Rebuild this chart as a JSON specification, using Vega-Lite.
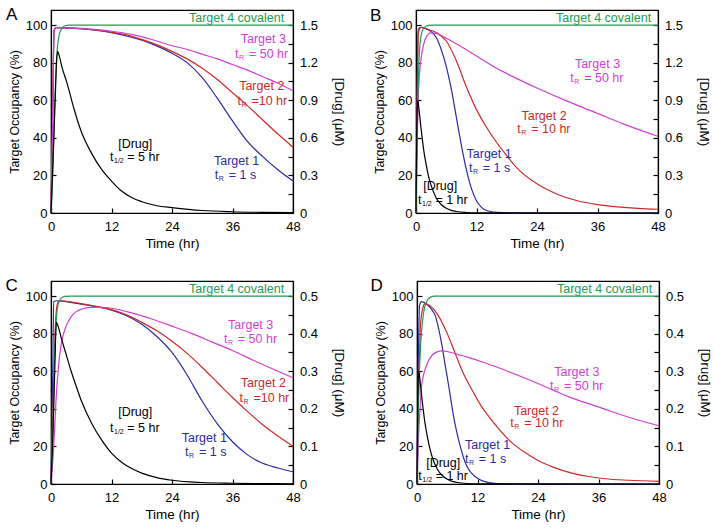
{
"$schema": "https://vega.github.io/schema/vega-lite/v6.json",
"padding": {"left": 4, "top": 5, "right": 4, "bottom": 4},
"datasets": {
"curves": [
{"p":"A","s":"Target 1","t":0,"v":0},{"p":"A","s":"Target 1","t":0.3,"v":45},{"p":"A","s":"Target 1","t":0.6,"v":97},{"p":"A","s":"Target 1","t":1,"v":98.6},{"p":"A","s":"Target 1","t":4,"v":98.4},{"p":"A","s":"Target 1","t":8,"v":97.6},{"p":"A","s":"Target 1","t":12,"v":96},{"p":"A","s":"Target 1","t":16,"v":93.5},{"p":"A","s":"Target 1","t":20,"v":90},{"p":"A","s":"Target 1","t":24,"v":85},{"p":"A","s":"Target 1","t":27,"v":80},{"p":"A","s":"Target 1","t":30,"v":72},{"p":"A","s":"Target 1","t":33,"v":61},{"p":"A","s":"Target 1","t":36,"v":49},{"p":"A","s":"Target 1","t":39,"v":38},{"p":"A","s":"Target 1","t":42,"v":30},{"p":"A","s":"Target 1","t":45,"v":23},{"p":"A","s":"Target 1","t":48,"v":17},
{"p":"A","s":"Target 2","t":0,"v":0},{"p":"A","s":"Target 2","t":0.3,"v":45},{"p":"A","s":"Target 2","t":0.6,"v":97},{"p":"A","s":"Target 2","t":1,"v":98.6},{"p":"A","s":"Target 2","t":4,"v":98.4},{"p":"A","s":"Target 2","t":8,"v":97.6},{"p":"A","s":"Target 2","t":12,"v":96.2},{"p":"A","s":"Target 2","t":16,"v":94},{"p":"A","s":"Target 2","t":20,"v":90.5},{"p":"A","s":"Target 2","t":24,"v":86},{"p":"A","s":"Target 2","t":27,"v":82},{"p":"A","s":"Target 2","t":30,"v":77},{"p":"A","s":"Target 2","t":33,"v":71},{"p":"A","s":"Target 2","t":36,"v":64},{"p":"A","s":"Target 2","t":39,"v":57},{"p":"A","s":"Target 2","t":42,"v":49.5},{"p":"A","s":"Target 2","t":45,"v":42},{"p":"A","s":"Target 2","t":48,"v":35},
{"p":"A","s":"Target 3","t":0,"v":0},{"p":"A","s":"Target 3","t":0.3,"v":45},{"p":"A","s":"Target 3","t":0.6,"v":97},{"p":"A","s":"Target 3","t":1,"v":98.6},{"p":"A","s":"Target 3","t":4,"v":98.5},{"p":"A","s":"Target 3","t":8,"v":97.8},{"p":"A","s":"Target 3","t":12,"v":96.7},{"p":"A","s":"Target 3","t":16,"v":95},{"p":"A","s":"Target 3","t":20,"v":92.3},{"p":"A","s":"Target 3","t":24,"v":89},{"p":"A","s":"Target 3","t":27,"v":87},{"p":"A","s":"Target 3","t":30,"v":84.5},{"p":"A","s":"Target 3","t":33,"v":82},{"p":"A","s":"Target 3","t":36,"v":79},{"p":"A","s":"Target 3","t":39,"v":76},{"p":"A","s":"Target 3","t":42,"v":72.5},{"p":"A","s":"Target 3","t":45,"v":69},{"p":"A","s":"Target 3","t":48,"v":65},
{"p":"A","s":"Target 4","t":0,"v":0},{"p":"A","s":"Target 4","t":0.4,"v":25},{"p":"A","s":"Target 4","t":0.7,"v":55},{"p":"A","s":"Target 4","t":0.9,"v":70},{"p":"A","s":"Target 4","t":1.2,"v":86},{"p":"A","s":"Target 4","t":1.6,"v":94.5},{"p":"A","s":"Target 4","t":2,"v":97.5},{"p":"A","s":"Target 4","t":2.5,"v":99.2},{"p":"A","s":"Target 4","t":3.5,"v":100},{"p":"A","s":"Target 4","t":48,"v":100},
{"p":"B","s":"Target 1","t":0,"v":0},{"p":"B","s":"Target 1","t":0.2,"v":55},{"p":"B","s":"Target 1","t":0.45,"v":98},{"p":"B","s":"Target 1","t":1,"v":98.8},{"p":"B","s":"Target 1","t":2,"v":98},{"p":"B","s":"Target 1","t":3,"v":96.5},{"p":"B","s":"Target 1","t":4,"v":93.5},{"p":"B","s":"Target 1","t":5,"v":87},{"p":"B","s":"Target 1","t":6,"v":78},{"p":"B","s":"Target 1","t":7,"v":66},{"p":"B","s":"Target 1","t":8,"v":51},{"p":"B","s":"Target 1","t":9,"v":36},{"p":"B","s":"Target 1","t":10,"v":23},{"p":"B","s":"Target 1","t":11,"v":13},{"p":"B","s":"Target 1","t":12,"v":6.5},{"p":"B","s":"Target 1","t":13,"v":3},{"p":"B","s":"Target 1","t":14,"v":1.3},{"p":"B","s":"Target 1","t":16,"v":0.3},{"p":"B","s":"Target 1","t":20,"v":0},{"p":"B","s":"Target 1","t":48,"v":0},
{"p":"B","s":"Target 2","t":0,"v":0},{"p":"B","s":"Target 2","t":0.2,"v":50},{"p":"B","s":"Target 2","t":0.45,"v":96},{"p":"B","s":"Target 2","t":1,"v":98.8},{"p":"B","s":"Target 2","t":2,"v":98},{"p":"B","s":"Target 2","t":4,"v":96},{"p":"B","s":"Target 2","t":6,"v":91.5},{"p":"B","s":"Target 2","t":8,"v":81},{"p":"B","s":"Target 2","t":10,"v":67},{"p":"B","s":"Target 2","t":12,"v":55},{"p":"B","s":"Target 2","t":14,"v":45.5},{"p":"B","s":"Target 2","t":16,"v":37.5},{"p":"B","s":"Target 2","t":18,"v":30.5},{"p":"B","s":"Target 2","t":20,"v":24},{"p":"B","s":"Target 2","t":24,"v":15.5},{"p":"B","s":"Target 2","t":28,"v":10},{"p":"B","s":"Target 2","t":32,"v":6.5},{"p":"B","s":"Target 2","t":36,"v":4.5},{"p":"B","s":"Target 2","t":40,"v":3.3},{"p":"B","s":"Target 2","t":44,"v":2.5},{"p":"B","s":"Target 2","t":48,"v":2},
{"p":"B","s":"Target 3","t":0,"v":0},{"p":"B","s":"Target 3","t":0.25,"v":40},{"p":"B","s":"Target 3","t":0.5,"v":65},{"p":"B","s":"Target 3","t":1,"v":82},{"p":"B","s":"Target 3","t":1.5,"v":89.5},{"p":"B","s":"Target 3","t":2,"v":93.5},{"p":"B","s":"Target 3","t":3,"v":95.8},{"p":"B","s":"Target 3","t":4,"v":95.5},{"p":"B","s":"Target 3","t":6,"v":93},{"p":"B","s":"Target 3","t":9,"v":88.5},{"p":"B","s":"Target 3","t":12,"v":83.5},{"p":"B","s":"Target 3","t":16,"v":77},{"p":"B","s":"Target 3","t":20,"v":71.5},{"p":"B","s":"Target 3","t":24,"v":66.5},{"p":"B","s":"Target 3","t":30,"v":59.5},{"p":"B","s":"Target 3","t":36,"v":53},{"p":"B","s":"Target 3","t":42,"v":46.5},{"p":"B","s":"Target 3","t":48,"v":40.8},
{"p":"B","s":"Target 4","t":0,"v":0},{"p":"B","s":"Target 4","t":0.25,"v":45},{"p":"B","s":"Target 4","t":0.5,"v":75},{"p":"B","s":"Target 4","t":0.8,"v":90},{"p":"B","s":"Target 4","t":1.2,"v":96.5},{"p":"B","s":"Target 4","t":1.7,"v":98.8},{"p":"B","s":"Target 4","t":2.5,"v":99.8},{"p":"B","s":"Target 4","t":3.5,"v":100},{"p":"B","s":"Target 4","t":48,"v":100},
{"p":"C","s":"Target 1","t":0,"v":0},{"p":"C","s":"Target 1","t":0.3,"v":50},{"p":"C","s":"Target 1","t":0.55,"v":97},{"p":"C","s":"Target 1","t":1,"v":97.5},{"p":"C","s":"Target 1","t":3,"v":97},{"p":"C","s":"Target 1","t":6,"v":95.7},{"p":"C","s":"Target 1","t":9,"v":94.3},{"p":"C","s":"Target 1","t":12,"v":92.5},{"p":"C","s":"Target 1","t":15,"v":89.5},{"p":"C","s":"Target 1","t":18,"v":85},{"p":"C","s":"Target 1","t":21,"v":78.5},{"p":"C","s":"Target 1","t":24,"v":70},{"p":"C","s":"Target 1","t":27,"v":58},{"p":"C","s":"Target 1","t":30,"v":44},{"p":"C","s":"Target 1","t":33,"v":32},{"p":"C","s":"Target 1","t":36,"v":22.5},{"p":"C","s":"Target 1","t":39,"v":15.5},{"p":"C","s":"Target 1","t":42,"v":11},{"p":"C","s":"Target 1","t":45,"v":8.5},{"p":"C","s":"Target 1","t":48,"v":6.5},
{"p":"C","s":"Target 2","t":0,"v":0},{"p":"C","s":"Target 2","t":0.4,"v":40},{"p":"C","s":"Target 2","t":0.8,"v":80},{"p":"C","s":"Target 2","t":1.2,"v":95},{"p":"C","s":"Target 2","t":1.6,"v":97.5},{"p":"C","s":"Target 2","t":3,"v":97.2},{"p":"C","s":"Target 2","t":6,"v":96},{"p":"C","s":"Target 2","t":9,"v":94.5},{"p":"C","s":"Target 2","t":12,"v":92.8},{"p":"C","s":"Target 2","t":15,"v":90},{"p":"C","s":"Target 2","t":18,"v":86},{"p":"C","s":"Target 2","t":21,"v":81.5},{"p":"C","s":"Target 2","t":24,"v":76},{"p":"C","s":"Target 2","t":27,"v":69.5},{"p":"C","s":"Target 2","t":30,"v":62},{"p":"C","s":"Target 2","t":33,"v":54},{"p":"C","s":"Target 2","t":36,"v":46},{"p":"C","s":"Target 2","t":39,"v":38.5},{"p":"C","s":"Target 2","t":42,"v":31.5},{"p":"C","s":"Target 2","t":45,"v":25.5},{"p":"C","s":"Target 2","t":48,"v":20},
{"p":"C","s":"Target 3","t":0,"v":0},{"p":"C","s":"Target 3","t":0.5,"v":18},{"p":"C","s":"Target 3","t":1,"v":45},{"p":"C","s":"Target 3","t":1.5,"v":63},{"p":"C","s":"Target 3","t":2,"v":74},{"p":"C","s":"Target 3","t":3,"v":84},{"p":"C","s":"Target 3","t":4,"v":89},{"p":"C","s":"Target 3","t":5,"v":91.7},{"p":"C","s":"Target 3","t":6,"v":93},{"p":"C","s":"Target 3","t":8,"v":94},{"p":"C","s":"Target 3","t":10,"v":94},{"p":"C","s":"Target 3","t":12,"v":93.5},{"p":"C","s":"Target 3","t":16,"v":91},{"p":"C","s":"Target 3","t":20,"v":87.8},{"p":"C","s":"Target 3","t":24,"v":84},{"p":"C","s":"Target 3","t":28,"v":80},{"p":"C","s":"Target 3","t":32,"v":75.5},{"p":"C","s":"Target 3","t":36,"v":71},{"p":"C","s":"Target 3","t":40,"v":66},{"p":"C","s":"Target 3","t":44,"v":61.2},{"p":"C","s":"Target 3","t":48,"v":56.5},
{"p":"C","s":"Target 4","t":0,"v":0},{"p":"C","s":"Target 4","t":0.3,"v":20},{"p":"C","s":"Target 4","t":0.5,"v":45},{"p":"C","s":"Target 4","t":0.7,"v":66},{"p":"C","s":"Target 4","t":1,"v":85},{"p":"C","s":"Target 4","t":1.4,"v":95.5},{"p":"C","s":"Target 4","t":2,"v":98.8},{"p":"C","s":"Target 4","t":2.7,"v":99.8},{"p":"C","s":"Target 4","t":4,"v":100},{"p":"C","s":"Target 4","t":48,"v":100},
{"p":"D","s":"Target 1","t":0,"v":0},{"p":"D","s":"Target 1","t":0.2,"v":50},{"p":"D","s":"Target 1","t":0.5,"v":95},{"p":"D","s":"Target 1","t":0.9,"v":97},{"p":"D","s":"Target 1","t":2,"v":95.5},{"p":"D","s":"Target 1","t":3,"v":92.5},{"p":"D","s":"Target 1","t":3.6,"v":89.7},{"p":"D","s":"Target 1","t":4.5,"v":80},{"p":"D","s":"Target 1","t":5,"v":73},{"p":"D","s":"Target 1","t":5.6,"v":63},{"p":"D","s":"Target 1","t":6.3,"v":52},{"p":"D","s":"Target 1","t":6.9,"v":41.7},{"p":"D","s":"Target 1","t":7.5,"v":32.5},{"p":"D","s":"Target 1","t":8.2,"v":24},{"p":"D","s":"Target 1","t":9,"v":16},{"p":"D","s":"Target 1","t":9.5,"v":11.8},{"p":"D","s":"Target 1","t":10.5,"v":6.8},{"p":"D","s":"Target 1","t":11.5,"v":4},{"p":"D","s":"Target 1","t":12.5,"v":2.3},{"p":"D","s":"Target 1","t":14,"v":0.9},{"p":"D","s":"Target 1","t":16,"v":0.2},{"p":"D","s":"Target 1","t":20,"v":0},{"p":"D","s":"Target 1","t":48,"v":0},
{"p":"D","s":"Target 2","t":0,"v":0},{"p":"D","s":"Target 2","t":0.3,"v":45},{"p":"D","s":"Target 2","t":0.7,"v":85},{"p":"D","s":"Target 2","t":1.2,"v":94},{"p":"D","s":"Target 2","t":1.6,"v":96},{"p":"D","s":"Target 2","t":2.5,"v":95},{"p":"D","s":"Target 2","t":4.2,"v":89.7},{"p":"D","s":"Target 2","t":6,"v":80},{"p":"D","s":"Target 2","t":7.5,"v":70},{"p":"D","s":"Target 2","t":9,"v":60},{"p":"D","s":"Target 2","t":10.8,"v":50.6},{"p":"D","s":"Target 2","t":12.5,"v":42.5},{"p":"D","s":"Target 2","t":14.1,"v":36.4},{"p":"D","s":"Target 2","t":16,"v":30},{"p":"D","s":"Target 2","t":18.8,"v":22},{"p":"D","s":"Target 2","t":21,"v":17.5},{"p":"D","s":"Target 2","t":24,"v":12.5},{"p":"D","s":"Target 2","t":27,"v":9},{"p":"D","s":"Target 2","t":30.7,"v":5.8},{"p":"D","s":"Target 2","t":34,"v":4},{"p":"D","s":"Target 2","t":37.3,"v":2.8},{"p":"D","s":"Target 2","t":42,"v":2},{"p":"D","s":"Target 2","t":48,"v":1.4},
{"p":"D","s":"Target 3","t":0,"v":0},{"p":"D","s":"Target 3","t":0.3,"v":25},{"p":"D","s":"Target 3","t":0.6,"v":40},{"p":"D","s":"Target 3","t":0.9,"v":52},{"p":"D","s":"Target 3","t":1.5,"v":60},{"p":"D","s":"Target 3","t":2.2,"v":65},{"p":"D","s":"Target 3","t":3,"v":68.5},{"p":"D","s":"Target 3","t":4,"v":70.3},{"p":"D","s":"Target 3","t":4.9,"v":70.8},{"p":"D","s":"Target 3","t":6,"v":70.5},{"p":"D","s":"Target 3","t":8,"v":69},{"p":"D","s":"Target 3","t":10,"v":67.5},{"p":"D","s":"Target 3","t":14,"v":64},{"p":"D","s":"Target 3","t":18,"v":60},{"p":"D","s":"Target 3","t":24,"v":53.5},{"p":"D","s":"Target 3","t":30,"v":46.5},{"p":"D","s":"Target 3","t":36,"v":41},{"p":"D","s":"Target 3","t":42,"v":35.5},{"p":"D","s":"Target 3","t":48,"v":31},
{"p":"D","s":"Target 4","t":0,"v":0},{"p":"D","s":"Target 4","t":0.3,"v":45},{"p":"D","s":"Target 4","t":0.6,"v":68},{"p":"D","s":"Target 4","t":0.9,"v":81},{"p":"D","s":"Target 4","t":1.3,"v":91},{"p":"D","s":"Target 4","t":1.9,"v":97},{"p":"D","s":"Target 4","t":2.6,"v":99.3},{"p":"D","s":"Target 4","t":3.6,"v":100},{"p":"D","s":"Target 4","t":48,"v":100}
],
"drug": [
{"p":"A","t":0,"c":0},{"p":"A","t":0.4,"c":0.42},{"p":"A","t":0.8,"c":0.87},{"p":"A","t":1.1,"c":1.2},{"p":"A","t":1.3,"c":1.29},{"p":"A","t":1.6,"c":1.26},{"p":"A","t":2.2,"c":1.16},{"p":"A","t":3,"c":1.06},{"p":"A","t":3.5,"c":0.99},{"p":"A","t":4.5,"c":0.84},{"p":"A","t":6,"c":0.65},{"p":"A","t":8,"c":0.48},{"p":"A","t":10,"c":0.35},{"p":"A","t":12,"c":0.255},{"p":"A","t":14,"c":0.175},{"p":"A","t":16,"c":0.123},{"p":"A","t":18,"c":0.09},{"p":"A","t":21,"c":0.058},{"p":"A","t":24,"c":0.043},{"p":"A","t":30,"c":0.02},{"p":"A","t":36,"c":0.01},{"p":"A","t":42,"c":0.005},{"p":"A","t":48,"c":0.003},
{"p":"B","t":0,"c":0},{"p":"B","t":0.15,"c":0.675},{"p":"B","t":0.35,"c":0.9},{"p":"B","t":0.6,"c":0.825},{"p":"B","t":1,"c":0.675},{"p":"B","t":1.5,"c":0.51},{"p":"B","t":2,"c":0.39},{"p":"B","t":2.5,"c":0.29},{"p":"B","t":3,"c":0.22},{"p":"B","t":4,"c":0.12},{"p":"B","t":5,"c":0.068},{"p":"B","t":6,"c":0.038},{"p":"B","t":7,"c":0.021},{"p":"B","t":8,"c":0.012},{"p":"B","t":10,"c":0.004},{"p":"B","t":12,"c":0.001},{"p":"B","t":48,"c":0},
{"p":"C","t":0,"c":0},{"p":"C","t":0.4,"c":0.14},{"p":"C","t":0.8,"c":0.33},{"p":"C","t":1.05,"c":0.43},{"p":"C","t":1.4,"c":0.42},{"p":"C","t":2,"c":0.39},{"p":"C","t":3,"c":0.345},{"p":"C","t":4,"c":0.3},{"p":"C","t":5,"c":0.26},{"p":"C","t":6,"c":0.222},{"p":"C","t":8,"c":0.163},{"p":"C","t":10,"c":0.118},{"p":"C","t":12,"c":0.082},{"p":"C","t":14,"c":0.058},{"p":"C","t":16,"c":0.041},{"p":"C","t":18,"c":0.029},{"p":"C","t":21,"c":0.017},{"p":"C","t":24,"c":0.01},{"p":"C","t":30,"c":0.004},{"p":"C","t":36,"c":0.002},{"p":"C","t":42,"c":0.001},{"p":"C","t":48,"c":0.0005},
{"p":"D","t":0,"c":0},{"p":"D","t":0.15,"c":0.225},{"p":"D","t":0.35,"c":0.3},{"p":"D","t":0.6,"c":0.275},{"p":"D","t":1,"c":0.225},{"p":"D","t":1.5,"c":0.17},{"p":"D","t":2,"c":0.13},{"p":"D","t":2.5,"c":0.0975},{"p":"D","t":3,"c":0.0725},{"p":"D","t":4,"c":0.04},{"p":"D","t":5,"c":0.0225},{"p":"D","t":6,"c":0.0125},{"p":"D","t":7,"c":0.007},{"p":"D","t":8,"c":0.004},{"p":"D","t":10,"c":0.00125},{"p":"D","t":12,"c":0.0004},{"p":"D","t":48,"c":0}
],
"labels": [
{"p":"A","s":"Target 4","t":36.8,"v":103.9,"txt":"Target 4 covalent"},{"p":"A","s":"Target 3","t":42.1,"v":92.7,"txt":"Target 3"},{"p":"A","s":"Target 2","t":41.8,"v":67.5,"txt":"Target 2"},{"p":"A","s":"Target 1","t":36.8,"v":27.7,"txt":"Target 1"},{"p":"A","s":"Drug","t":16.7,"v":36.5,"txt":"[Drug]"},
{"p":"B","s":"Target 4","t":37.2,"v":103.9,"txt":"Target 4 covalent"},{"p":"B","s":"Target 3","t":36,"v":79.1,"txt":"Target 3"},{"p":"B","s":"Target 2","t":25.4,"v":51.6,"txt":"Target 2"},{"p":"B","s":"Target 1","t":14.5,"v":31.2,"txt":"Target 1"},{"p":"B","s":"Drug","t":4.8,"v":14.4,"txt":"[Drug]"},
{"p":"C","s":"Target 4","t":36.8,"v":103.7,"txt":"Target 4 covalent"},{"p":"C","s":"Target 3","t":39.6,"v":84.6,"txt":"Target 3"},{"p":"C","s":"Target 2","t":42.1,"v":53.6,"txt":"Target 2"},{"p":"C","s":"Target 1","t":30.4,"v":24.3,"txt":"Target 1"},{"p":"C","s":"Drug","t":16.7,"v":38.5,"txt":"[Drug]"},
{"p":"D","s":"Target 4","t":37.2,"v":103.7,"txt":"Target 4 covalent"},{"p":"D","s":"Target 3","t":31.7,"v":59.4,"txt":"Target 3"},{"p":"D","s":"Target 2","t":23.7,"v":39,"txt":"Target 2"},{"p":"D","s":"Target 1","t":14,"v":20.7,"txt":"Target 1"},{"p":"D","s":"Drug","t":5.2,"v":11,"txt":"[Drug]"}
],
"tlines": [
{"p":"A","s":"Target 3","t":36.5,"v":84.7,"txt":"t\u00a0\u00a0\u00a0= 50 hr","sub":"R"},{"p":"A","s":"Target 2","t":37,"v":59.6,"txt":"t\u00a0\u00a0\u00a0=10 hr","sub":"R"},{"p":"A","s":"Target 1","t":32.5,"v":20.2,"txt":"t\u00a0\u00a0\u00a0= 1 s","sub":"R"},{"p":"A","s":"Drug","t":11.7,"v":29.8,"txt":"t\u00a0\u00a0\u00a0\u00a0= 5 hr","sub":"1/2"},
{"p":"B","s":"Target 3","t":30.6,"v":71.6,"txt":"t\u00a0\u00a0\u00a0= 50 hr","sub":"R"},{"p":"B","s":"Target 2","t":20.1,"v":44.5,"txt":"t\u00a0\u00a0\u00a0= 10 hr","sub":"R"},{"p":"B","s":"Target 1","t":10.5,"v":24.1,"txt":"t\u00a0\u00a0\u00a0= 1 s","sub":"R"},{"p":"B","s":"Drug","t":0.4,"v":6.7,"txt":"t\u00a0\u00a0\u00a0\u00a0= 1 hr","sub":"1/2"},
{"p":"C","s":"Target 3","t":34.3,"v":77.1,"txt":"t\u00a0\u00a0\u00a0= 50 hr","sub":"R"},{"p":"C","s":"Target 2","t":37.4,"v":45.9,"txt":"t\u00a0\u00a0\u00a0=10 hr","sub":"R"},{"p":"C","s":"Target 1","t":26.6,"v":16.9,"txt":"t\u00a0\u00a0\u00a0= 1 s","sub":"R"},{"p":"C","s":"Drug","t":11.7,"v":29.6,"txt":"t\u00a0\u00a0\u00a0\u00a0= 5 hr","sub":"1/2"},
{"p":"D","s":"Target 3","t":26.4,"v":52.3,"txt":"t\u00a0\u00a0\u00a0= 50 hr","sub":"R"},{"p":"D","s":"Target 2","t":18.5,"v":32.3,"txt":"t\u00a0\u00a0\u00a0= 10 hr","sub":"R"},{"p":"D","s":"Target 1","t":9.5,"v":13.3,"txt":"t\u00a0\u00a0\u00a0= 1 s","sub":"R"},{"p":"D","s":"Drug","t":0.26,"v":4.4,"txt":"t\u00a0\u00a0\u00a0\u00a0= 1 hr","sub":"1/2"}
],
"letters": [
{"p":"A","t":-7.8,"v":105.2,"txt":"A"},{"p":"B","t":-8,"v":104.8,"txt":"B"},{"p":"C","t":-7.8,"v":105.3,"txt":"C"},{"p":"D","t":-8,"v":105.3,"txt":"D"}
]
},
"spacing": 25,
"vconcat": [
{"hconcat": [
{"width": 242, "height": 203,
 "layer": [
  {"layer": [
   {"data": {"name": "curves"}, "transform": [{"filter": "datum.p == 'A'"}],
    "mark": {"type": "line", "strokeWidth": 1.2, "interpolate": "monotone"},
    "encoding": {
     "x": {"field": "t", "type": "quantitative", "scale": {"domain": [0, 48], "nice": false}, "axis": {"title": "Time (hr)", "values": [0,6,12,18,24,30,36,42,48], "labelExpr": "datum.value % 12 == 0 ? datum.label : ''"}},
     "y": {"field": "v", "type": "quantitative", "scale": {"domain": [0, 108], "nice": false}, "axis": {"title": "Target Occupancy (%)", "values": [0,10,20,30,40,50,60,70,80,90,100], "labelExpr": "datum.value % 20 == 0 ? datum.label : ''"}},
     "color": {"field": "s", "type": "nominal", "scale": {"domain": ["Target 1","Target 2","Target 3","Target 4","Drug"], "range": ["#2b2ba3","#cc2a2a","#d13fd1","#259a52","#000000"]}, "legend": null}}},
   {"data": {"name": "labels"}, "transform": [{"filter": "datum.p == 'A'"}],
    "mark": {"type": "text", "align": "center", "baseline": "middle", "fontSize": 12.5},
    "encoding": {"x": {"field": "t", "type": "quantitative"}, "y": {"field": "v", "type": "quantitative"}, "text": {"field": "txt"}, "color": {"field": "s", "type": "nominal"}}},
   {"data": {"name": "tlines"}, "transform": [{"filter": "datum.p == 'A'"}],
    "mark": {"type": "text", "align": "left", "baseline": "middle", "fontSize": 12.5},
    "encoding": {"x": {"field": "t", "type": "quantitative"}, "y": {"field": "v", "type": "quantitative"}, "text": {"field": "txt"}, "color": {"field": "s", "type": "nominal"}}},
   {"data": {"name": "tlines"}, "transform": [{"filter": "datum.p == 'A'"}],
    "mark": {"type": "text", "align": "left", "baseline": "middle", "fontSize": 7, "dx": 4, "dy": 4},
    "encoding": {"x": {"field": "t", "type": "quantitative"}, "y": {"field": "v", "type": "quantitative"}, "text": {"field": "sub"}, "color": {"field": "s", "type": "nominal"}}},
   {"data": {"name": "letters"}, "transform": [{"filter": "datum.p == 'A'"}],
    "mark": {"type": "text", "align": "center", "baseline": "middle", "fontSize": 17, "color": "black"},
    "encoding": {"x": {"field": "t", "type": "quantitative"}, "y": {"field": "v", "type": "quantitative"}, "text": {"field": "txt"}}}
  ]},
  {"data": {"name": "drug"}, "transform": [{"filter": "datum.p == 'A'"}],
   "mark": {"type": "line", "strokeWidth": 1.2, "interpolate": "monotone", "color": "black"},
   "encoding": {
    "x": {"field": "t", "type": "quantitative"},
    "y": {"field": "c", "type": "quantitative", "scale": {"domain": [0, 1.62], "nice": false}, "axis": {"orient": "right", "title": "[Drug] (μM)", "values": [0,0.15,0.3,0.45,0.6,0.75,0.9,1.05,1.2,1.35,1.5], "labelExpr": "round(datum.value / 0.15) % 2 == 0 ? format(datum.value, '.1~f') : ''"}}}}
 ],
 "resolve": {"scale": {"y": "independent"}}
},
{"width": 242, "height": 203,
 "layer": [
  {"layer": [
   {"data": {"name": "curves"}, "transform": [{"filter": "datum.p == 'B'"}],
    "mark": {"type": "line", "strokeWidth": 1.2, "interpolate": "monotone"},
    "encoding": {
     "x": {"field": "t", "type": "quantitative", "scale": {"domain": [0, 48], "nice": false}, "axis": {"title": "Time (hr)", "values": [0,6,12,18,24,30,36,42,48], "labelExpr": "datum.value % 12 == 0 ? datum.label : ''"}},
     "y": {"field": "v", "type": "quantitative", "scale": {"domain": [0, 108], "nice": false}, "axis": {"title": "Target Occupancy (%)", "values": [0,10,20,30,40,50,60,70,80,90,100], "labelExpr": "datum.value % 20 == 0 ? datum.label : ''"}},
     "color": {"field": "s", "type": "nominal", "scale": {"domain": ["Target 1","Target 2","Target 3","Target 4","Drug"], "range": ["#2b2ba3","#cc2a2a","#d13fd1","#259a52","#000000"]}, "legend": null}}},
   {"data": {"name": "labels"}, "transform": [{"filter": "datum.p == 'B'"}],
    "mark": {"type": "text", "align": "center", "baseline": "middle", "fontSize": 12.5},
    "encoding": {"x": {"field": "t", "type": "quantitative"}, "y": {"field": "v", "type": "quantitative"}, "text": {"field": "txt"}, "color": {"field": "s", "type": "nominal"}}},
   {"data": {"name": "tlines"}, "transform": [{"filter": "datum.p == 'B'"}],
    "mark": {"type": "text", "align": "left", "baseline": "middle", "fontSize": 12.5},
    "encoding": {"x": {"field": "t", "type": "quantitative"}, "y": {"field": "v", "type": "quantitative"}, "text": {"field": "txt"}, "color": {"field": "s", "type": "nominal"}}},
   {"data": {"name": "tlines"}, "transform": [{"filter": "datum.p == 'B'"}],
    "mark": {"type": "text", "align": "left", "baseline": "middle", "fontSize": 7, "dx": 4, "dy": 4},
    "encoding": {"x": {"field": "t", "type": "quantitative"}, "y": {"field": "v", "type": "quantitative"}, "text": {"field": "sub"}, "color": {"field": "s", "type": "nominal"}}},
   {"data": {"name": "letters"}, "transform": [{"filter": "datum.p == 'B'"}],
    "mark": {"type": "text", "align": "center", "baseline": "middle", "fontSize": 17, "color": "black"},
    "encoding": {"x": {"field": "t", "type": "quantitative"}, "y": {"field": "v", "type": "quantitative"}, "text": {"field": "txt"}}}
  ]},
  {"data": {"name": "drug"}, "transform": [{"filter": "datum.p == 'B'"}],
   "mark": {"type": "line", "strokeWidth": 1.2, "interpolate": "monotone", "color": "black"},
   "encoding": {
    "x": {"field": "t", "type": "quantitative"},
    "y": {"field": "c", "type": "quantitative", "scale": {"domain": [0, 1.62], "nice": false}, "axis": {"orient": "right", "title": "[Drug] (μM)", "values": [0,0.15,0.3,0.45,0.6,0.75,0.9,1.05,1.2,1.35,1.5], "labelExpr": "round(datum.value / 0.15) % 2 == 0 ? format(datum.value, '.1~f') : ''"}}}}
 ],
 "resolve": {"scale": {"y": "independent"}}
}
], "spacing": 22},
{"hconcat": [
{"width": 242, "height": 203,
 "layer": [
  {"layer": [
   {"data": {"name": "curves"}, "transform": [{"filter": "datum.p == 'C'"}],
    "mark": {"type": "line", "strokeWidth": 1.2, "interpolate": "monotone"},
    "encoding": {
     "x": {"field": "t", "type": "quantitative", "scale": {"domain": [0, 48], "nice": false}, "axis": {"title": "Time (hr)", "values": [0,6,12,18,24,30,36,42,48], "labelExpr": "datum.value % 12 == 0 ? datum.label : ''"}},
     "y": {"field": "v", "type": "quantitative", "scale": {"domain": [0, 108], "nice": false}, "axis": {"title": "Target Occupancy (%)", "values": [0,10,20,30,40,50,60,70,80,90,100], "labelExpr": "datum.value % 20 == 0 ? datum.label : ''"}},
     "color": {"field": "s", "type": "nominal", "scale": {"domain": ["Target 1","Target 2","Target 3","Target 4","Drug"], "range": ["#2b2ba3","#cc2a2a","#d13fd1","#259a52","#000000"]}, "legend": null}}},
   {"data": {"name": "labels"}, "transform": [{"filter": "datum.p == 'C'"}],
    "mark": {"type": "text", "align": "center", "baseline": "middle", "fontSize": 12.5},
    "encoding": {"x": {"field": "t", "type": "quantitative"}, "y": {"field": "v", "type": "quantitative"}, "text": {"field": "txt"}, "color": {"field": "s", "type": "nominal"}}},
   {"data": {"name": "tlines"}, "transform": [{"filter": "datum.p == 'C'"}],
    "mark": {"type": "text", "align": "left", "baseline": "middle", "fontSize": 12.5},
    "encoding": {"x": {"field": "t", "type": "quantitative"}, "y": {"field": "v", "type": "quantitative"}, "text": {"field": "txt"}, "color": {"field": "s", "type": "nominal"}}},
   {"data": {"name": "tlines"}, "transform": [{"filter": "datum.p == 'C'"}],
    "mark": {"type": "text", "align": "left", "baseline": "middle", "fontSize": 7, "dx": 4, "dy": 4},
    "encoding": {"x": {"field": "t", "type": "quantitative"}, "y": {"field": "v", "type": "quantitative"}, "text": {"field": "sub"}, "color": {"field": "s", "type": "nominal"}}},
   {"data": {"name": "letters"}, "transform": [{"filter": "datum.p == 'C'"}],
    "mark": {"type": "text", "align": "center", "baseline": "middle", "fontSize": 17, "color": "black"},
    "encoding": {"x": {"field": "t", "type": "quantitative"}, "y": {"field": "v", "type": "quantitative"}, "text": {"field": "txt"}}}
  ]},
  {"data": {"name": "drug"}, "transform": [{"filter": "datum.p == 'C'"}],
   "mark": {"type": "line", "strokeWidth": 1.2, "interpolate": "monotone", "color": "black"},
   "encoding": {
    "x": {"field": "t", "type": "quantitative"},
    "y": {"field": "c", "type": "quantitative", "scale": {"domain": [0, 0.54], "nice": false}, "axis": {"orient": "right", "title": "[Drug] (μM)", "values": [0,0.05,0.1,0.15,0.2,0.25,0.3,0.35,0.4,0.45,0.5], "labelExpr": "round(datum.value / 0.05) % 2 == 0 ? format(datum.value, '.1~f') : ''"}}}}
 ],
 "resolve": {"scale": {"y": "independent"}}
},
{"width": 242, "height": 203,
 "layer": [
  {"layer": [
   {"data": {"name": "curves"}, "transform": [{"filter": "datum.p == 'D'"}],
    "mark": {"type": "line", "strokeWidth": 1.2, "interpolate": "monotone"},
    "encoding": {
     "x": {"field": "t", "type": "quantitative", "scale": {"domain": [0, 48], "nice": false}, "axis": {"title": "Time (hr)", "values": [0,6,12,18,24,30,36,42,48], "labelExpr": "datum.value % 12 == 0 ? datum.label : ''"}},
     "y": {"field": "v", "type": "quantitative", "scale": {"domain": [0, 108], "nice": false}, "axis": {"title": "Target Occupancy (%)", "values": [0,10,20,30,40,50,60,70,80,90,100], "labelExpr": "datum.value % 20 == 0 ? datum.label : ''"}},
     "color": {"field": "s", "type": "nominal", "scale": {"domain": ["Target 1","Target 2","Target 3","Target 4","Drug"], "range": ["#2b2ba3","#cc2a2a","#d13fd1","#259a52","#000000"]}, "legend": null}}},
   {"data": {"name": "labels"}, "transform": [{"filter": "datum.p == 'D'"}],
    "mark": {"type": "text", "align": "center", "baseline": "middle", "fontSize": 12.5},
    "encoding": {"x": {"field": "t", "type": "quantitative"}, "y": {"field": "v", "type": "quantitative"}, "text": {"field": "txt"}, "color": {"field": "s", "type": "nominal"}}},
   {"data": {"name": "tlines"}, "transform": [{"filter": "datum.p == 'D'"}],
    "mark": {"type": "text", "align": "left", "baseline": "middle", "fontSize": 12.5},
    "encoding": {"x": {"field": "t", "type": "quantitative"}, "y": {"field": "v", "type": "quantitative"}, "text": {"field": "txt"}, "color": {"field": "s", "type": "nominal"}}},
   {"data": {"name": "tlines"}, "transform": [{"filter": "datum.p == 'D'"}],
    "mark": {"type": "text", "align": "left", "baseline": "middle", "fontSize": 7, "dx": 4, "dy": 4},
    "encoding": {"x": {"field": "t", "type": "quantitative"}, "y": {"field": "v", "type": "quantitative"}, "text": {"field": "sub"}, "color": {"field": "s", "type": "nominal"}}},
   {"data": {"name": "letters"}, "transform": [{"filter": "datum.p == 'D'"}],
    "mark": {"type": "text", "align": "center", "baseline": "middle", "fontSize": 17, "color": "black"},
    "encoding": {"x": {"field": "t", "type": "quantitative"}, "y": {"field": "v", "type": "quantitative"}, "text": {"field": "txt"}}}
  ]},
  {"data": {"name": "drug"}, "transform": [{"filter": "datum.p == 'D'"}],
   "mark": {"type": "line", "strokeWidth": 1.2, "interpolate": "monotone", "color": "black"},
   "encoding": {
    "x": {"field": "t", "type": "quantitative"},
    "y": {"field": "c", "type": "quantitative", "scale": {"domain": [0, 0.54], "nice": false}, "axis": {"orient": "right", "title": "[Drug] (μM)", "values": [0,0.05,0.1,0.15,0.2,0.25,0.3,0.35,0.4,0.45,0.5], "labelExpr": "round(datum.value / 0.05) % 2 == 0 ? format(datum.value, '.1~f') : ''"}}}}
 ],
 "resolve": {"scale": {"y": "independent"}}
}
], "spacing": 22}
],
"config": {
 "font": "Liberation Sans",
 "view": {"stroke": "black", "strokeWidth": 1.2},
 "axis": {"grid": false, "domainColor": "black", "tickColor": "black", "labelColor": "black", "titleColor": "black", "labelFontSize": 13, "titleFontSize": 13.5, "titleFontWeight": "normal", "tickSize": -5, "tickWidth": 1.2, "domainWidth": 1.2, "labelFlush": false, "labelOverlap": false, "labelFont": "Liberation Sans", "titleFont": "Liberation Sans"},
 "axisBottom": {"labelPadding": 12, "titlePadding": 3},
 "axisLeft": {"labelPadding": 9, "titlePadding": 4, "titleFontSize": 12.5},
 "axisRight": {"labelPadding": 11.5, "titlePadding": 14},
 "text": {"font": "Liberation Sans"}
}
}
